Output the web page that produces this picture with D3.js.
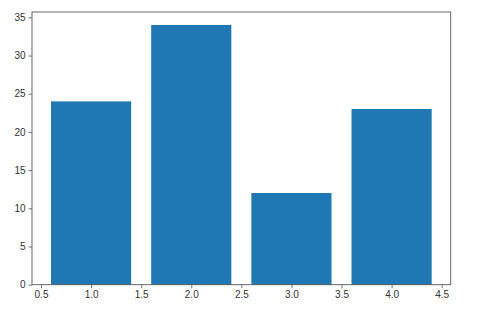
<!DOCTYPE html>
<html>
<head>
<meta charset="utf-8">
<script src="https://cdn.jsdelivr.net/npm/d3@7"></script>
<style>
  body { margin: 0; background: #fff; }
  svg text { font-family: "Liberation Sans", Arial, sans-serif; }
</style>
</head>
<body>
<div id="chart"></div>
<script>
var xs = [1, 2, 3, 4];
var values = [24, 34, 12, 23];
var xTicks = [0.5, 1.0, 1.5, 2.0, 2.5, 3.0, 3.5, 4.0, 4.5];
var yTicks = [0, 5, 10, 15, 20, 25, 30, 35];

var width = 493, height = 309;
var margin = {left: 32, top: 12, right: 42.3, bottom: 24.3};
var barWidth = 0.8;

var svg = d3.select("#chart").append("svg")
    .attr("width", width)
    .attr("height", height);

// matplotlib-style 5% margins around the data
var x = d3.scaleLinear()
    .domain([0.41, 4.59])
    .range([margin.left, width - margin.right]);
var y = d3.scaleLinear()
    .domain([0, 34 * 1.05])
    .range([height - margin.bottom, margin.top]);

svg.selectAll("rect.bar")
    .data(xs)
    .enter().append("rect")
    .attr("class", "bar")
    .attr("x", function(d) { return x(d - barWidth / 2); })
    .attr("width", function(d) { return x(d + barWidth / 2) - x(d - barWidth / 2); })
    .attr("y", function(d, i) { return y(values[i]); })
    .attr("height", function(d, i) { return y(0) - y(values[i]); })
    .style("fill", "#1f77b4");

var xAxis = svg.append("g")
    .attr("transform", "translate(0," + (height - margin.bottom) + ")")
    .call(d3.axisBottom(x).tickValues(xTicks).tickFormat(d3.format(".1f")).tickSizeInner(3.5).tickSizeOuter(0).tickPadding(3));
var yAxis = svg.append("g")
    .attr("transform", "translate(" + margin.left + ",0)")
    .call(d3.axisLeft(y).tickValues(yTicks).tickSizeInner(3.5).tickSizeOuter(0).tickPadding(3));

[xAxis, yAxis].forEach(function(a) {
  a.select(".domain").remove();
  a.selectAll(".tick line").attr("stroke", "#555").attr("stroke-width", 0.8);
  a.selectAll(".tick text").attr("fill", "#333").style("font-size", "10px");
});

// frame
svg.append("rect")
    .attr("x", margin.left)
    .attr("y", margin.top)
    .attr("width", width - margin.left - margin.right)
    .attr("height", height - margin.top - margin.bottom)
    .attr("fill", "none")
    .attr("stroke", "#555")
    .attr("stroke-width", 0.9);
</script>
</body>
</html>
